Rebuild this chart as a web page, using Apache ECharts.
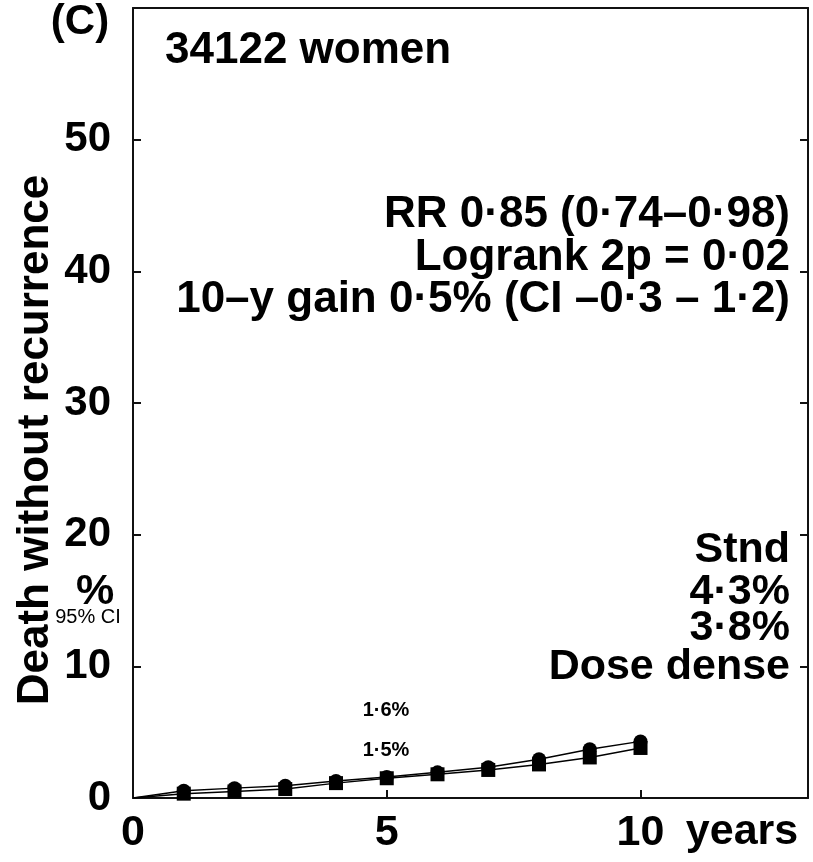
<!DOCTYPE html>
<html>
<head>
<meta charset="utf-8">
<script src="https://cdn.jsdelivr.net/npm/echarts@6/dist/echarts.min.js"></script>
<style>
html,body{margin:0;padding:0;background:#fff;}
#chart{width:813px;height:862px;}
</style>
</head>
<body>
<div id="chart"></div>
<script>
// ---- data ----
var years = [0, 1, 2, 3, 4, 5, 6, 7, 8, 9, 10];
var stnd = [0, 0.55, 0.75, 0.93, 1.3, 1.6, 1.95, 2.33, 2.95, 3.7, 4.3];
var doseDense = [0, 0.33, 0.5, 0.68, 1.13, 1.5, 1.8, 2.13, 2.55, 3.08, 3.8];
var stndCI = [0, 0.12, 0.14, 0.15, 0.17, 0.18, 0.2, 0.22, 0.26, 0.3, 0.35];
var doseCI = [0, 0.12, 0.14, 0.15, 0.17, 0.18, 0.2, 0.22, 0.26, 0.3, 0.35];
var xTicks = [0, 5, 10];
var yTicks = [0, 10, 20, 30, 40, 50];
var statsLines = ['RR 0·85 (0·74–0·98)', 'Logrank 2p = 0·02', '10–y gain 0·5% (CI –0·3 – 1·2)'];
var legendLines = ['Stnd', '4·3%', '3·8%', 'Dose dense'];
var midLabels = ['1·6%', '1·5%'];

var FONT = '"Liberation Sans", Arial, Helvetica, sans-serif';
var chart = echarts.init(document.getElementById('chart'));

function buildLine(vals) {
  return years.map(function (y, i) {
    return i === 0 ? { value: [y, vals[i]], symbolSize: 0 } : [y, vals[i]];
  });
}
function buildCI(vals, ci) {
  var out = [];
  for (var i = 1; i < years.length; i++) out.push([years[i], vals[i] - ci[i], vals[i] + ci[i]]);
  return out;
}
function ciRender(params, api) {
  var lo = api.coord([api.value(0), api.value(1)]);
  var hi = api.coord([api.value(0), api.value(2)]);
  return {
    type: 'line',
    shape: { x1: lo[0], y1: lo[1], x2: hi[0], y2: hi[1] },
    style: { stroke: '#000', lineWidth: 5 }
  };
}

var axisLineStyle = { color: '#111', width: 2 };
var option = {
  animation: false,
  backgroundColor: '#fff',
  grid: { left: 133, right: 5, top: 8, bottom: 64, containLabel: false },
  xAxis: [{
    type: 'value', min: 0, max: 13.3, interval: 5,
    axisLine: { show: true, lineStyle: axisLineStyle },
    axisTick: { show: true, inside: true, length: 8, lineStyle: { color: '#111', width: 2 } },
    axisLabel: {
      showMaxLabel: false, margin: 14,
      fontFamily: FONT, fontWeight: 'bold', fontSize: 43, color: '#000',
      formatter: function (v) { return xTicks.indexOf(v) >= 0 ? String(v) : ''; }
    },
    splitLine: { show: false }
  }, {
    type: 'value', position: 'top', min: 0, max: 13.3, interval: 5,
    axisLine: { show: true, onZero: false, lineStyle: axisLineStyle },
    axisTick: { show: false }, axisLabel: { show: false }, splitLine: { show: false }
  }],
  yAxis: [{
    type: 'value', min: 0, max: 60, interval: 10,
    axisLine: { show: true, lineStyle: axisLineStyle },
    axisTick: { show: true, inside: true, length: 8, lineStyle: { color: '#111', width: 2 } },
    axisLabel: {
      showMaxLabel: false, margin: 22,
      fontFamily: FONT, fontWeight: 'bold', fontSize: 42, color: '#000',
      formatter: function (v) { return yTicks.indexOf(v) >= 0 ? String(v) : ''; }
    },
    splitLine: { show: false }
  }, {
    type: 'value', position: 'right', min: 0, max: 60, interval: 10,
    axisLine: { show: true, onZero: false, lineStyle: axisLineStyle },
    axisTick: { show: true, inside: true, length: 8, lineStyle: { color: '#111', width: 2 } },
    axisLabel: { show: false }, splitLine: { show: false }
  }],
  series: [{
    name: 'Stnd', type: 'line', data: buildLine(stnd),
    symbol: 'circle', symbolSize: 14,
    lineStyle: { color: '#000', width: 1.5 },
    itemStyle: { color: '#000' }, z: 3
  }, {
    name: 'Dose dense', type: 'line', data: buildLine(doseDense),
    symbol: 'rect', symbolSize: [14, 14],
    lineStyle: { color: '#000', width: 1.5 },
    itemStyle: { color: '#000' }, z: 3
  }, {
    type: 'custom', data: buildCI(stnd, stndCI), renderItem: ciRender, z: 2
  }, {
    type: 'custom', data: buildCI(doseDense, doseCI), renderItem: ciRender, z: 2
  }],
  graphic: []
};

var g = option.graphic;
function txt(x, y, s, size, align, weight, extra) {
  var o = {
    type: 'text', x: x, y: y, silent: true,
    style: {
      text: s, fontFamily: FONT, fontSize: size, fontWeight: weight || 'bold',
      fill: '#000', textAlign: align || 'left', textVerticalAlign: 'middle'
    }
  };
  if (extra) for (var k in extra) o[k] = extra[k];
  return o;
}
g.push(txt(80, 22, '(C)', 42, 'center'));
g.push(txt(165, 51, '34122 women', 44, 'left'));
var statY = [215, 258, 300];
statsLines.forEach(function (s, i) { g.push(txt(790, statY[i], s, 44, 'right')); });
var legY = [550, 592, 628, 667];
legendLines.forEach(function (s, i) { g.push(txt(790, legY[i], s, 43, 'right')); });
g.push(txt(386, 710, midLabels[0], 20, 'center'));
g.push(txt(386, 750, midLabels[1], 20, 'center'));
g.push(txt(742, 832, 'years', 43, 'center'));
g.push(txt(95, 592, '%', 43, 'center'));
g.push(txt(88, 617, '95% CI', 20, 'center', 'normal'));
g.push(txt(36, 440, 'Death without recurrence', 44, 'center', 'bold', { rotation: Math.PI / 2 }));

chart.setOption(option);
</script>
</body>
</html>
